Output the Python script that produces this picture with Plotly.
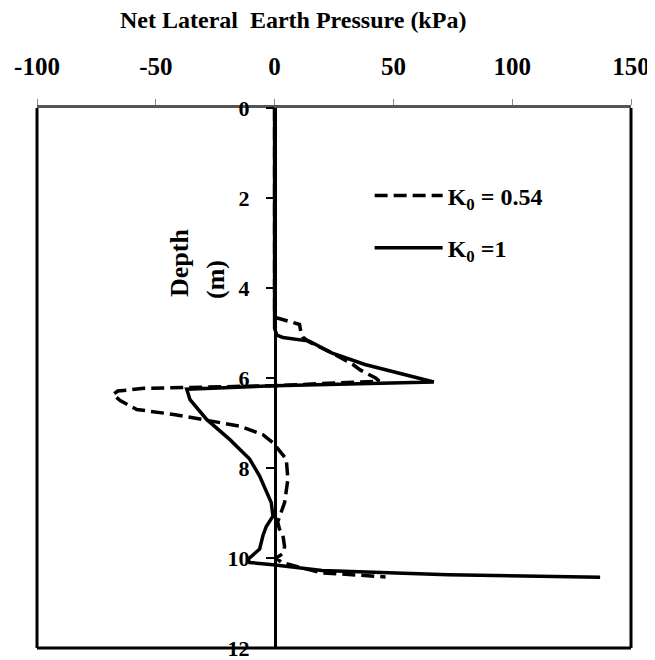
import plotly.graph_objects as go

# K0 = 0.54 (dashed)
depth_054 = [0, 4.6, 4.66, 4.81, 4.96, 5.1, 5.2, 5.44, 5.7, 5.82, 6.0, 6.07, 6.17, 6.2, 6.23, 6.29,
             6.37, 6.5, 6.7, 6.81, 6.92, 7.07, 7.26, 7.44, 7.8, 8.25, 8.77, 9.2, 9.35, 9.5, 9.75,
             9.9, 10.0, 10.1, 10.2, 10.33, 10.38, 10.42]
press_054 = [0, 0, 0.7, 10.5, 11, 12, 14.6, 24, 33, 36, 42.5, 44, 0, -37, -55, -66,
             -68, -65, -58, -42.5, -30, -14.6, -4.9, -0.7, 4.9, 5.6, 4.2, 1.3, 2, 3.5, 4.2,
             3.5, 0.7, 3, 10, 20, 35, 46.7]

# K0 = 1 (solid)
depth_1 = [0, 4.9, 5.05, 5.1, 5.18, 5.44, 5.7, 5.88, 6.09, 6.17, 6.25, 6.48, 6.92, 7.37, 7.8,
           8.18, 8.77, 9.07, 9.3, 9.5, 9.8, 10.03, 10.1, 10.15, 10.28, 10.37, 10.43]
press_1 = [0, 0, 1, 3.5, 14.6, 24, 38, 52, 67, 0, -37, -35.6, -28.6, -18.8, -10.5,
           -6.3, -1.4, -0.7, -3.5, -4.9, -6.3, -11.2, -10.5, -0.7, 20, 73, 137]

x_ticks = [-100, -50, 0, 50, 100, 150]
y_ticks = [0, 2, 4, 6, 8, 10, 12]

FONT = "Liberation Serif, Times New Roman, serif"

fig = go.Figure()
fig.add_trace(go.Scatter(
    x=press_054, y=depth_054, mode="lines", name="K<sub>0</sub> = 0.54",
    legendgroup="a",
    line=dict(color="black", width=3.5, dash="13px,6px"),
))
fig.add_trace(go.Scatter(
    x=press_1, y=depth_1, mode="lines", name="K<sub>0</sub> =1",
    legendgroup="b",
    line=dict(color="black", width=3.5),
))

fig.update_layout(
    width=647, height=660,
    margin=dict(l=29, r=24, t=100, b=20, autoexpand=False),
    plot_bgcolor="white", paper_bgcolor="white",
    font=dict(family=FONT, size=22, color="black", weight="bold"),
    showlegend=True,
    legend=dict(
        x=0.56, y=0.879, xanchor="left", yanchor="top",
        bgcolor="rgba(0,0,0,0)", borderwidth=0,
        font=dict(family=FONT, size=24, color="black", weight="bold"),
        traceorder="grouped", tracegroupgap=18, itemwidth=68,
    ),
    xaxis=dict(
        range=[-100, 150], side="top", tickvals=x_ticks,
        ticktext=[str(v) for v in x_ticks],
        showgrid=False, zeroline=False, automargin=False,
        showline=True, linecolor="#555", linewidth=3,
        ticks="outside", ticklen=6, tickcolor="#888", tickwidth=1,
        ticklabelstandoff=14,
        tickfont=dict(family=FONT, size=25, weight="bold"),
        domain=[0, 1],
    ),
    yaxis=dict(
        range=[12, 0], tickvals=y_ticks,
        showgrid=False, zeroline=False, automargin=False,
        anchor="free", position=0.4,
        showline=True, linecolor="black", linewidth=2.5,
        ticks="outside", ticklen=8, tickcolor="black", tickwidth=2,
        ticklabelstandoff=12, ticklabeloverflow="allow",
        tickfont=dict(family=FONT, size=22, weight="bold"),
    ),
)

# plot box (left, right, bottom borders)
for x0, y0, x1, y1 in [(0, 0, 0, 1), (1, 0, 1, 1), (0, 0, 1, 0)]:
    fig.add_shape(type="line", xref="paper", yref="paper",
                  x0=x0, y0=y0, x1=x1, y1=y1,
                  line=dict(color="black", width=3))

# x-axis title
fig.add_annotation(
    text="Net Lateral\u00a0 Earth Pressure (kPa)",
    xref="paper", yref="paper", x=(293 - 37) / 594, y=1 + (108 - 20) / 540,
    xanchor="center", yanchor="middle", showarrow=False,
    font=dict(family=FONT, size=24, weight="bold"),
)
# y-axis title (two rotated lines)
fig.add_annotation(
    text="Depth", textangle=-90,
    xref="paper", yref="paper", x=(179 - 37) / 594, y=(648 - 263) / 540,
    xanchor="center", yanchor="middle", showarrow=False,
    font=dict(family=FONT, size=26, weight="bold"),
)
fig.add_annotation(
    text="(m)", textangle=-90,
    xref="paper", yref="paper", x=(215 - 37) / 594, y=(648 - 280) / 540,
    xanchor="center", yanchor="middle", showarrow=False,
    font=dict(family=FONT, size=26, weight="bold"),
)

fig.write_html("out.html")
